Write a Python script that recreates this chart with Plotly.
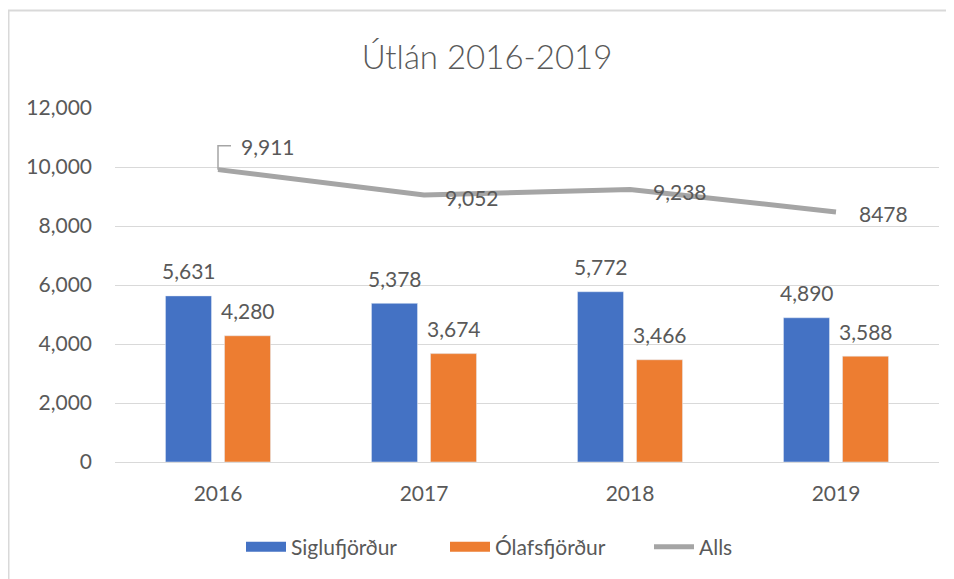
import plotly.graph_objects as go

years = ["2016", "2017", "2018", "2019"]
siglufjordur = [5631, 5378, 5772, 4890]
olafsfjordur = [4280, 3674, 3466, 3588]
alls = [9911, 9052, 9238, 8478]
alls_labels = ["9,911", "9,052", "9,238", "8478"]
y_ticks = [0, 2000, 4000, 6000, 8000, 10000, 12000]
y_ticklabels = ["0", "2,000", "4,000", "6,000", "8,000", "10,000", "12,000"]

BLUE = "#4472C4"
ORANGE = "#ED7D31"
GRAY = "#A5A5A5"
TXT = "#595959"
GRID = "#D9D9D9"
FONT = "Lato"
FS = 21

# page body has an 8px margin, so the figure is laid out 8px left/up of screen positions
OFF = 8
W, H = 954, 579
ML, MR, MT, MB = 107, 23, 100, 125
PW, PH = W - ML - MR, H - MT - MB

fig = go.Figure()
fig.add_trace(go.Bar(x=years, y=siglufjordur, name="Siglufjörður", marker_color=BLUE,
                     showlegend=False, hoverinfo="y"))
fig.add_trace(go.Bar(x=years, y=olafsfjordur, name="Ólafsfjörður", marker_color=ORANGE,
                     showlegend=False, hoverinfo="y"))
fig.add_trace(go.Scatter(x=years, y=alls, name="Alls", mode="lines",
                         line=dict(color=GRAY, width=5), showlegend=False))

# legend swatches
fig.add_trace(go.Scatter(x=[years[0]], y=[None], mode="lines", name="Siglufjörður",
                         line=dict(color=BLUE, width=14)))
fig.add_trace(go.Scatter(x=[years[0]], y=[None], mode="lines", name="Ólafsfjörður",
                         line=dict(color=ORANGE, width=14)))
fig.add_trace(go.Scatter(x=[years[0]], y=[None], mode="lines", name="Alls",
                         line=dict(color=GRAY, width=5)))

annotations = []
for i, v in enumerate(siglufjordur):
    annotations.append(dict(x=i, y=v, xref="x", yref="y", text=f"{v:,}", showarrow=False,
                            xshift=-29.5, yshift=25, yanchor="middle",
                            font=dict(family=FONT, size=FS, color=TXT)))
for i, v in enumerate(olafsfjordur):
    annotations.append(dict(x=i, y=v, xref="x", yref="y", text=f"{v:,}", showarrow=False,
                            xshift=29.5, yshift=25, yanchor="middle",
                            font=dict(family=FONT, size=FS, color=TXT)))
line_offsets = [(50, 23), (48, -3), (50, -2), (47, -2)]
for i, (v, lab, (dx, dy)) in enumerate(zip(alls, alls_labels, line_offsets)):
    annotations.append(dict(x=i, y=v, xref="x", yref="y", text=lab, showarrow=False,
                            xshift=dx, yshift=dy, yanchor="middle",
                            font=dict(family=FONT, size=FS, color=TXT)))

shapes = [
    # leader line for first label
    dict(type="path", xref="x", yref="y", xsizemode="pixel", ysizemode="pixel",
         xanchor=0, yanchor=alls[0], path="M0,0 L0,24 L13,24",
         line=dict(color=GRAY, width=1.5)),
    # chart border (top and left)
    dict(type="line", xref="paper", yref="paper",
         x0=(8 - OFF - ML) / PW, x1=(W - ML) / PW,
         y0=(H - MB - (10.5 - OFF)) / PH, y1=(H - MB - (10.5 - OFF)) / PH,
         line=dict(color=GRID, width=2)),
    dict(type="line", xref="paper", yref="paper",
         x0=(8.5 - OFF - ML) / PW, x1=(8.5 - OFF - ML) / PW,
         y0=(H - MB - (10.5 - OFF)) / PH, y1=(H - MB - H) / PH,
         line=dict(color=GRID, width=2)),
]

fig.update_layout(
    width=W, height=H,
    margin=dict(l=ML, r=MR, t=MT, b=MB),
    paper_bgcolor="white", plot_bgcolor="white",
    font=dict(family=FONT, size=FS, color=TXT),
    title=dict(text="Útlán 2016-2019", x=(487 - OFF) / W, xref="container",
               y=1 - (57 - OFF) / H, yref="container", xanchor="center", yanchor="middle",
               font=dict(family=FONT, size=33, color=TXT, weight=300)),
    barmode="group", bargap=0.427, bargroupgap=0.22,
    showlegend=True,
    legend=dict(orientation="h", xref="container", yref="container",
                x=(547 - OFF) / W, y=1 - (547 - OFF) / H,
                xanchor="center", yanchor="middle", font=dict(family=FONT, size=FS, color=TXT),
                itemwidth=40, entrywidth=149, entrywidthmode="pixels", traceorder="normal"),
    annotations=annotations,
    shapes=shapes,
)
fig.update_xaxes(type="category", categoryorder="array", categoryarray=years,
                 range=[-0.5, len(years) - 0.5], autorange=False,
                 showgrid=False, showline=True, linecolor=GRID, linewidth=1,
                 ticks="", ticklabelstandoff=13, tickfont=dict(family=FONT, size=FS, color=TXT),
                 zeroline=False)
fig.update_yaxes(range=[0, 12000], autorange=False, tickvals=y_ticks, ticktext=y_ticklabels,
                 showgrid=True, gridcolor=GRID, gridwidth=1, showline=False, zeroline=False,
                 ticks="", ticklabelstandoff=22, tickfont=dict(family=FONT, size=FS, color=TXT))

fig.write_html("out.html")
